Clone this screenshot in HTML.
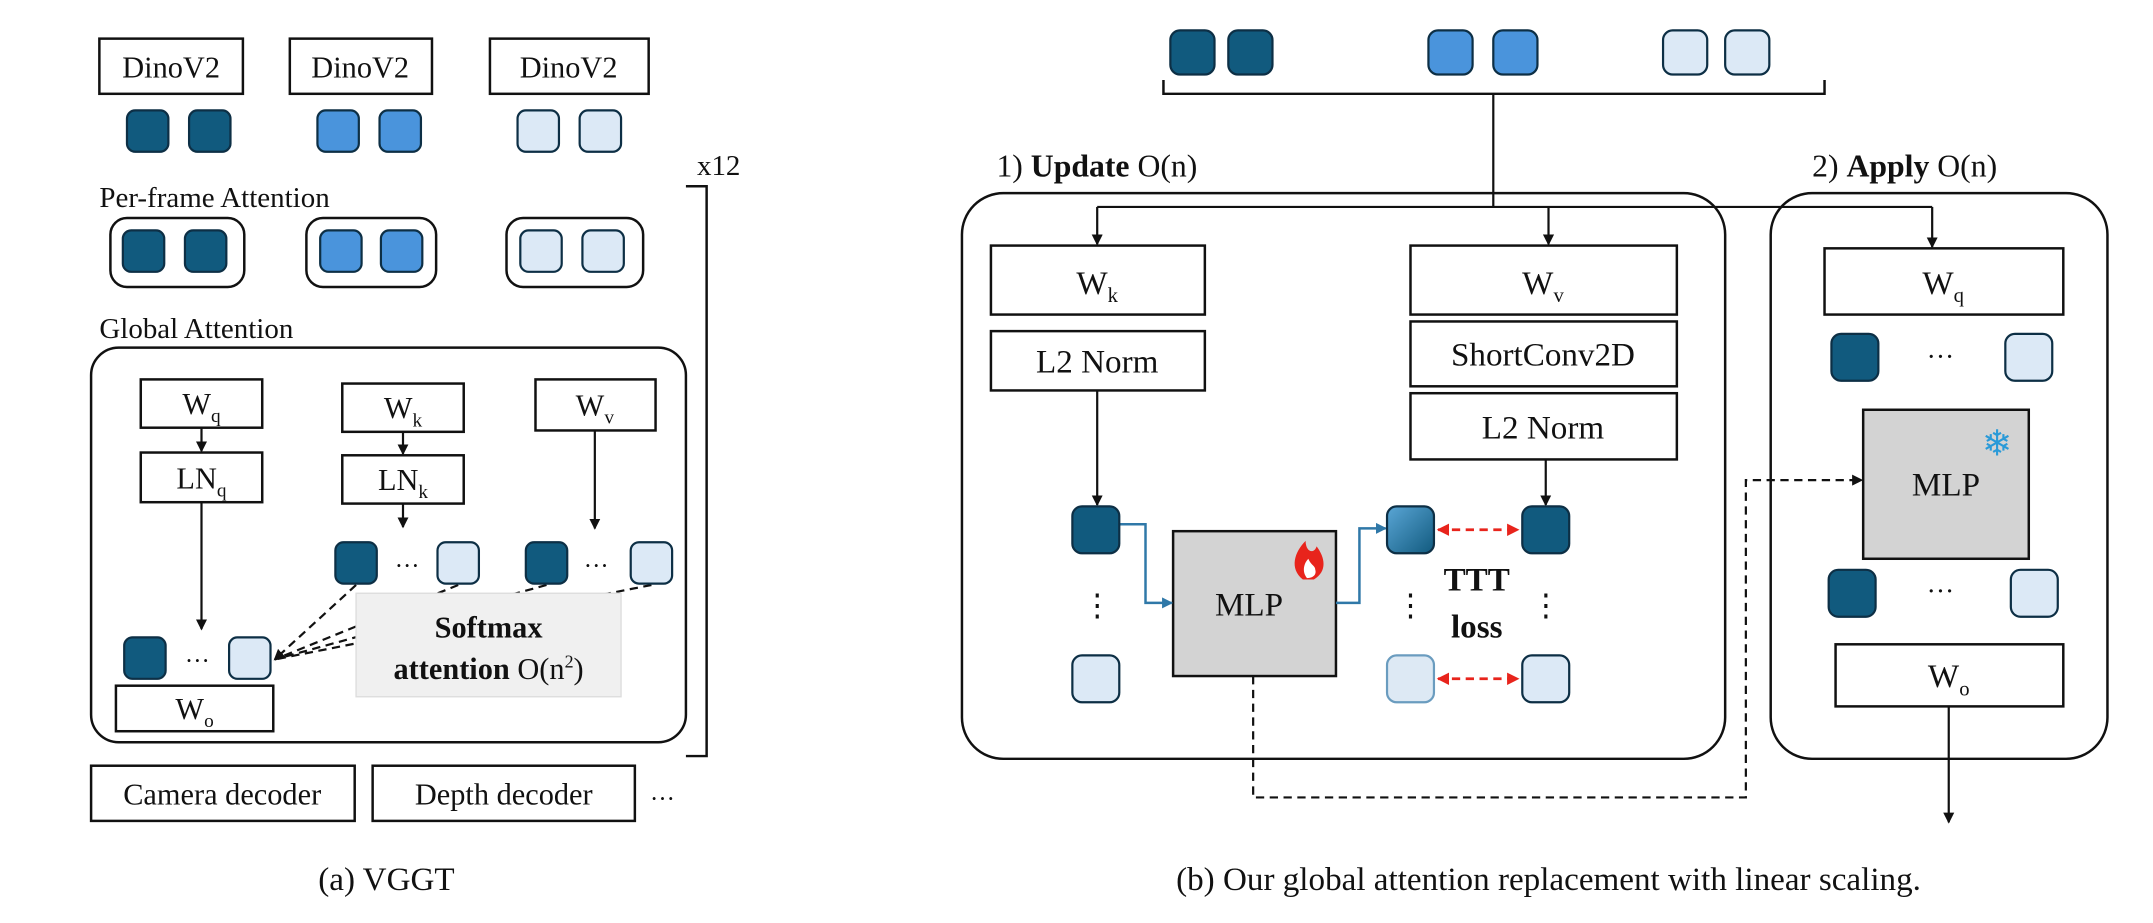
<!DOCTYPE html>
<html><head><meta charset="utf-8"><style>
html,body{margin:0;padding:0;background:#fff;}
svg{display:block;}
text{font-family:"Liberation Serif",serif;fill:#111;}
</style></head><body>
<svg width="2153" height="923" viewBox="0 0 1560 669" preserveAspectRatio="none" xmlns="http://www.w3.org/2000/svg">
<defs>
<marker id="ar" markerWidth="8" markerHeight="8" refX="7" refY="4" orient="auto" markerUnits="userSpaceOnUse"><path d="M0,0 L8,4 L0,8 z" fill="#111"/></marker>
<marker id="ab" markerWidth="8" markerHeight="8" refX="7" refY="4" orient="auto" markerUnits="userSpaceOnUse"><path d="M0,0 L8,4 L0,8 z" fill="#2f78a8"/></marker>
<marker id="rr" markerWidth="9" markerHeight="9" refX="8" refY="4.5" orient="auto-start-reverse" markerUnits="userSpaceOnUse"><path d="M0,0 L9,4.5 L0,9 z" fill="#e8241c"/></marker>
<linearGradient id="gt" x1="0" y1="0" x2="1" y2="1"><stop offset="0" stop-color="#5aa6d6"/><stop offset="1" stop-color="#115a7e"/></linearGradient>
</defs>
<g stroke="#111" stroke-width="1.8" fill="#fff">
<!-- (a) -->
<rect x="72" y="28" width="104" height="40"/><rect x="210" y="28" width="103" height="40"/><rect x="355" y="28" width="115" height="40"/>
<rect x="80" y="158" width="97" height="50" rx="12"/><rect x="222" y="158" width="94" height="50" rx="12"/><rect x="367" y="158" width="99" height="50" rx="12"/>
<rect x="66" y="252" width="431" height="286" rx="20"/>
<rect x="102" y="275" width="88" height="35"/><rect x="102" y="328" width="88" height="36"/>
<rect x="248" y="278" width="88" height="35"/><rect x="248" y="330" width="88" height="35"/>
<rect x="388" y="275" width="87" height="37"/>
<rect x="84" y="497" width="114" height="33"/>
<rect x="66" y="555" width="191" height="40"/><rect x="270" y="555" width="190" height="40"/>
<polyline points="497,135 512,135 512,548 497,548" fill="none"/>
<!-- (b) -->
<polyline points="843,58 843,68 1322,68 1322,58" fill="none"/>
<rect x="697" y="140" width="553" height="410" rx="30"/>
<rect x="1283" y="140" width="244" height="410" rx="30"/>
<rect x="718" y="178" width="155" height="50"/><rect x="718" y="240" width="155" height="43"/>
<rect x="1022" y="178" width="193" height="50"/><rect x="1022" y="233" width="193" height="47"/><rect x="1022" y="285" width="193" height="48"/>
<rect x="1322" y="180" width="173" height="48"/>
<rect x="1330" y="467" width="165" height="45"/>
<rect x="850" y="385" width="118" height="105" fill="#d3d3d3"/>
<rect x="1350" y="297" width="120" height="108" fill="#d3d3d3"/>
</g>
<!-- arrows -->
<g stroke="#111" stroke-width="1.6" fill="none">
<line x1="146" y1="310" x2="146" y2="327" marker-end="url(#ar)"/>
<line x1="292" y1="313" x2="292" y2="329" marker-end="url(#ar)"/>
<line x1="292" y1="365" x2="292" y2="382" marker-end="url(#ar)"/>
<line x1="431" y1="312" x2="431" y2="383" marker-end="url(#ar)"/>
<line x1="146" y1="364" x2="146" y2="456" marker-end="url(#ar)"/>
<g stroke-dasharray="6,4"><line x1="258" y1="424" x2="199" y2="478" marker-end="url(#ar)"/><line x1="332" y1="424" x2="199" y2="478"/><line x1="396" y1="424" x2="199" y2="478"/><line x1="472" y1="424" x2="199" y2="478"/></g>
<line x1="1082" y1="68" x2="1082" y2="150"/>
<polyline points="795,150 1400,150"/>
<line x1="795" y1="150" x2="795" y2="177" marker-end="url(#ar)"/>
<line x1="1122" y1="150" x2="1122" y2="177" marker-end="url(#ar)"/>
<line x1="1400" y1="150" x2="1400" y2="179" marker-end="url(#ar)"/>
<line x1="795" y1="283" x2="795" y2="366" marker-end="url(#ar)"/>
<line x1="1120" y1="333" x2="1120" y2="366" marker-end="url(#ar)"/>
<line x1="1412" y1="512" x2="1412" y2="596" marker-end="url(#ar)"/>
<polyline points="908,490 908,578 1265,578 1265,348 1349,348" stroke-dasharray="6,4" marker-end="url(#ar)"/>
</g>
<g stroke="#2f78a8" stroke-width="1.8" fill="none">
<polyline points="811,380 830,380 830,437 849,437" marker-end="url(#ab)"/>
<polyline points="968,437 985,437 985,383 1004,383" marker-end="url(#ab)"/>
</g>
<g stroke="#e8241c" stroke-width="2" stroke-dasharray="6,4" fill="none">
<line x1="1042" y1="384" x2="1100" y2="384" marker-start="url(#rr)" marker-end="url(#rr)"/>
<line x1="1042" y1="492" x2="1100" y2="492" marker-start="url(#rr)" marker-end="url(#rr)"/>
</g>
<!-- tokens -->
<g stroke="#0d2f45" stroke-width="1.6">
<g fill="#115a7e">
<rect x="92" y="80" width="30" height="30" rx="6"/><rect x="137" y="80" width="30" height="30" rx="6"/>
<rect x="89" y="167" width="30" height="30" rx="6"/><rect x="134" y="167" width="30" height="30" rx="6"/>
<rect x="243" y="393" width="30" height="30" rx="6"/><rect x="381" y="393" width="30" height="30" rx="6"/>
<rect x="90" y="462" width="30" height="30" rx="6"/>
<rect x="848" y="22" width="32" height="32" rx="7"/><rect x="890" y="22" width="32" height="32" rx="7"/>
<rect x="777" y="367" width="34" height="34" rx="7"/><rect x="1103" y="367" width="34" height="34" rx="7"/>
<rect x="1327" y="242" width="34" height="34" rx="7"/><rect x="1325" y="413" width="34" height="34" rx="7"/>
</g>
<g fill="#4a94dc">
<rect x="230" y="80" width="30" height="30" rx="6"/><rect x="275" y="80" width="30" height="30" rx="6"/>
<rect x="232" y="167" width="30" height="30" rx="6"/><rect x="276" y="167" width="30" height="30" rx="6"/>
<rect x="1035" y="22" width="32" height="32" rx="7"/><rect x="1082" y="22" width="32" height="32" rx="7"/>
</g>
<g fill="#dce9f6">
<rect x="375" y="80" width="30" height="30" rx="6"/><rect x="420" y="80" width="30" height="30" rx="6"/>
<rect x="377" y="167" width="30" height="30" rx="6"/><rect x="422" y="167" width="30" height="30" rx="6"/>
<rect x="317" y="393" width="30" height="30" rx="6"/><rect x="457" y="393" width="30" height="30" rx="6"/>
<rect x="166" y="462" width="30" height="30" rx="6"/>
<rect x="1205" y="22" width="32" height="32" rx="7"/><rect x="1250" y="22" width="32" height="32" rx="7"/>
<rect x="777" y="475" width="34" height="34" rx="7"/><rect x="1103" y="475" width="34" height="34" rx="7"/>
<rect x="1453" y="242" width="34" height="34" rx="7"/><rect x="1457" y="413" width="34" height="34" rx="7"/>
</g>
<rect x="1005" y="367" width="34" height="34" rx="7" fill="url(#gt)"/>
<rect x="1005" y="475" width="34" height="34" rx="7" fill="#dde9f4" stroke="#6a9cbf"/>
</g>
<!-- softmax label -->
<rect x="258" y="430" width="192" height="75" fill="#f0f0f0" stroke="#ddd"/>
<!-- text -->
<g font-size="22" text-anchor="middle">
<text x="124" y="56">DinoV2</text><text x="261" y="56">DinoV2</text><text x="412" y="56">DinoV2</text>
<text x="146" y="300">W<tspan font-size="14" dy="6">q</tspan></text>
<text x="146" y="354">LN<tspan font-size="14" dy="6">q</tspan></text>
<text x="292" y="303">W<tspan font-size="14" dy="6">k</tspan></text>
<text x="292" y="355">LN<tspan font-size="14" dy="6">k</tspan></text>
<text x="431" y="301">W<tspan font-size="14" dy="6">v</tspan></text>
<text x="141" y="521">W<tspan font-size="14" dy="6">o</tspan></text>
<text x="161" y="583">Camera decoder</text><text x="365" y="583">Depth decoder</text>
<text x="795" y="213" font-size="24">W<tspan font-size="15" dy="6">k</tspan></text>
<text x="795" y="270" font-size="24">L2 Norm</text>
<text x="1118" y="213" font-size="24">W<tspan font-size="15" dy="6">v</tspan></text>
<text x="1118" y="265" font-size="24">ShortConv2D</text>
<text x="1118" y="318" font-size="24">L2 Norm</text>
<text x="1408" y="213" font-size="24">W<tspan font-size="15" dy="6">q</tspan></text>
<text x="1412" y="498" font-size="24">W<tspan font-size="15" dy="6">o</tspan></text>
<text x="905" y="446" font-size="24">MLP</text>
<text x="1410" y="359" font-size="24">MLP</text>
<text x="354" y="462" font-weight="bold">Softmax</text>
<text x="354" y="492"><tspan font-weight="bold">attention</tspan> O(n<tspan font-size="13" dy="-8">2</tspan><tspan dy="8">)</tspan></text>
<text x="1070" y="428" font-weight="bold" font-size="24">TTT</text>
<text x="1070" y="462" font-weight="bold" font-size="24">loss</text>
<text x="280" y="645" font-size="24">(a) VGGT</text>
<text x="1122" y="645" font-size="24">(b) Our global attention replacement with linear scaling.</text>
<text x="295" y="416" font-size="18">···</text><text x="432" y="416" font-size="18">···</text>
<text x="143" y="485" font-size="18">···</text><text x="480" y="585" font-size="18">···</text>
<text x="1406" y="265" font-size="20">···</text><text x="1406" y="435" font-size="20">···</text>
<text x="795" y="446" font-size="22">⋮</text><text x="1022" y="446" font-size="22">⋮</text><text x="1120" y="446" font-size="22">⋮</text>
</g>
<g font-size="21">
<text x="505" y="127">x12</text>
<text x="72" y="150">Per-frame Attention</text>
<text x="72" y="245">Global Attention</text>
<text x="722" y="128" font-size="23">1) <tspan font-weight="bold">Update</tspan> O(n)</text>
<text x="1313" y="128" font-size="23">2) <tspan font-weight="bold">Apply</tspan> O(n)</text>
</g>
<!-- fire icon -->
<path d="M944,420 C934,412 938,400 946,392 C946,400 952,402 954,396 C960,404 962,414 952,420 Z" fill="#e8241c"/>
<path d="M947,419 C943,414 945,408 948,405 C950,410 953,410 953,413 C954,416 952,419 947,419 Z" fill="#fff"/>
<!-- snowflake -->
<text x="1447" y="330" font-size="26" text-anchor="middle" style="fill:#2a9ad8">❄</text>
</svg>
</body></html>
